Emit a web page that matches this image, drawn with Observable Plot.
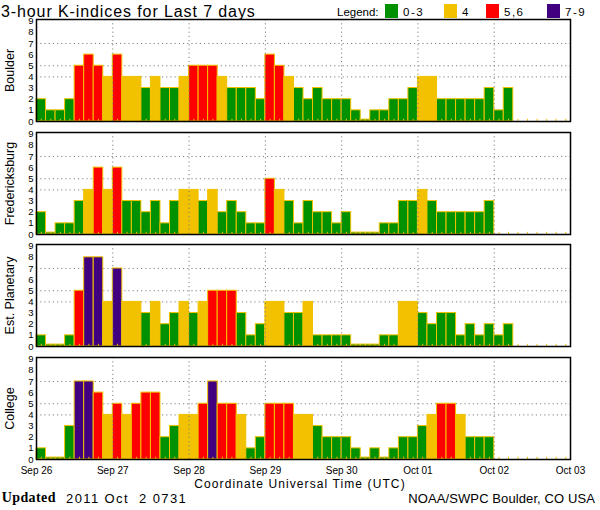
<!DOCTYPE html>
<html>
<head>
<meta charset="utf-8">
<script src="https://cdn.jsdelivr.net/npm/d3@7"></script>
<script src="https://cdn.jsdelivr.net/npm/@observablehq/plot@0.6"></script>
<style>
  html, body { margin: 0; padding: 0; background: #fff; }
  #chart { position: relative; width: 600px; height: 510px; background: #fff; overflow: hidden; font-family: "Liberation Sans", Arial, sans-serif; color: #000; }
  .abs { position: absolute; line-height: 1; white-space: pre; }
  .panel { position: absolute; left: 0; }
  .box { position: absolute; width: 13px; height: 14px; }
</style>
</head>
<body>
<div id="chart"></div>
<script>
// ---- Data (3-hour K-indices, 8 per day, starting 2011-09-26 00 UTC) ----
const stations = ["Boulder", "Fredericksburg", "Est. Planetary", "College"];
const boulder = [2,1,1,2,5,6,5,4, 6,4,4,3,4,3,3,4, 5,5,5,4,3,3,3,2, 6,5,4,3,2,3,2,2, 2,1,0,1,1,2,2,3, 4,4,2,2,2,2,2,3, 1,3];
const fredericksburg = [2,0,1,1,3,4,6,4, 6,3,3,2,3,1,3,4, 4,3,4,2,3,2,1,1, 5,4,3,1,3,2,2,1, 2,0,0,0,1,1,3,3, 4,3,2,2,2,2,2,3];
const planetary = [1,0,0,1,5,8,8,4, 7,4,4,3,4,2,3,4, 3,4,5,5,5,3,1,2, 4,4,3,3,4,1,1,1, 1,0,0,0,1,1,4,4, 3,2,3,3,1,2,1,2, 1,2];
const college = [1,0,0,3,7,7,6,4, 5,4,5,6,6,2,3,4, 4,5,7,5,5,4,1,2, 5,5,5,4,4,3,2,2, 2,1,0,1,0,1,2,2, 3,4,5,5,4,2,2,2];
const seriesValues = [boulder, fredericksburg, planetary, college];

const legendLabels = ["0-3", "4", "5,6", "7-9"];
const legendColors = ["#009100", "#f2c200", "#ff0000", "#400080"];
const yTickLabels = [0,1,2,3,4,5,6,7,8,9];
const gridLevels = [4, 5, 7];
const title = "3-hour K-indices for Last 7 days";
const xTitle = "Coordinate Universal Time (UTC)";
const updatedLabel = "Updated";
const updatedText = "2011 Oct  2 0731";
const credit = "NOAA/SWPC Boulder, CO USA";

// ---- Derived structure ----
const start = new Date(Date.UTC(2011, 8, 26));
const end = new Date(Date.UTC(2011, 9, 3));
const slotMs = 3 * 3600 * 1000;
const nSlots = Math.round((end - start) / slotMs);
const days = d3.utcDay.range(start, new Date(+end + 1));
const slotCenters = d3.range(nSlots).map(i => new Date(+start + (i + 0.5) * slotMs));
const cls = v => v <= 3 ? "0-3" : v === 4 ? "4" : v <= 6 ? "5,6" : "7-9";
const rows = vals => vals.map((v, i) => ({
  t0: new Date(+start + i * slotMs),
  t1: new Date(+start + (i + 1) * slotMs),
  v, h: v === 0 ? 0.17 : v, c: cls(v)
}));
const barStroke = "#f2c200";
const gridColor = "#808080";

const chart = document.getElementById("chart");
const add = (html) => { const d = document.createElement("div"); d.innerHTML = html; const el = d.firstElementChild; chart.appendChild(el); return el; };

// Title & legend
add(`<div class="abs" style="left:1px;top:3.6px;font-size:16px;letter-spacing:0.9px;">${title}</div>`);
add(`<div class="abs" style="left:337px;top:7px;font-size:11.5px;">Legend:</div>`);
const boxX = [385, 444, 486, 546.5];
const labX = [403, 462, 504, 565];
legendLabels.forEach((lab, i) => {
  add(`<div class="box" style="left:${boxX[i]}px;top:4px;background:${legendColors[i]};"></div>`);
  add(`<div class="abs" style="left:${labX[i]}px;top:7px;font-size:11.5px;letter-spacing:1.5px;">${lab}</div>`);
});

// Panels
const tops = [19, 132, 244, 357];
const H = 102;
stations.forEach((name, k) => {
  const last = k === stations.length - 1;
  const mt = 4, mb = last ? 20 : 4;
  const plot = Plot.plot({
    width: 600,
    height: H + mt + mb,
    marginLeft: 36, marginRight: 30, marginTop: mt, marginBottom: mb,
    style: { fontFamily: "'Liberation Sans', Arial, sans-serif", background: "transparent", overflow: "visible" },
    x: { type: "utc", domain: [start, end], axis: null },
    y: { domain: [0, 9.15], axis: null },
    color: { domain: legendLabels, range: legendColors },
    marks: [
      Plot.ruleY(gridLevels, { stroke: gridColor, strokeDasharray: "1.2,3" }),
      Plot.rect(rows(seriesValues[k]), { x1: "t0", x2: "t1", y1: 0, y2: "h", fill: "c", stroke: barStroke, strokeWidth: 1 }),
      Plot.ruleX(slotCenters, { y1: 0, y2: 0.2, stroke: barStroke }),
      Plot.ruleX(days.slice(1, -1), { stroke: gridColor, strokeDasharray: "1.2,3" }),
      Plot.axisY(yTickLabels, { tickSize: 0, tickPadding: 3, fontSize: 9.5, label: null }),
      last ? Plot.axisX(days, { tickSize: 0, tickPadding: 7, fontSize: 10, tickFormat: d3.utcFormat("%b %d"), label: null }) : null,
      Plot.frame({ stroke: "black", strokeWidth: 1.5 }),
      Plot.text([name], { frameAnchor: "left", textAnchor: "middle", rotate: -90, dx: -27, fontSize: 12.5, fill: "black" })
    ]
  });
  plot.classList.add("panel");
  plot.style.top = (tops[k] - mt) + "px";
  chart.appendChild(plot);
});

// Footer
add(`<div class="abs" style="left:0;width:600px;text-align:center;top:477.5px;font-size:12px;letter-spacing:1.1px;">${xTitle}</div>`);
add(`<div class="abs" style="left:1.7px;top:491px;font-size:14px;font-family:'Liberation Serif','Times New Roman',serif;font-weight:bold;letter-spacing:0.4px;">${updatedLabel}</div>`);
add(`<div class="abs" style="left:66px;top:491.7px;font-size:13px;letter-spacing:1.4px;">${updatedText}</div>`);
add(`<div class="abs" style="right:5px;top:491.7px;font-size:13px;letter-spacing:0.1px;">${credit}</div>`);
</script>
</body>
</html>
